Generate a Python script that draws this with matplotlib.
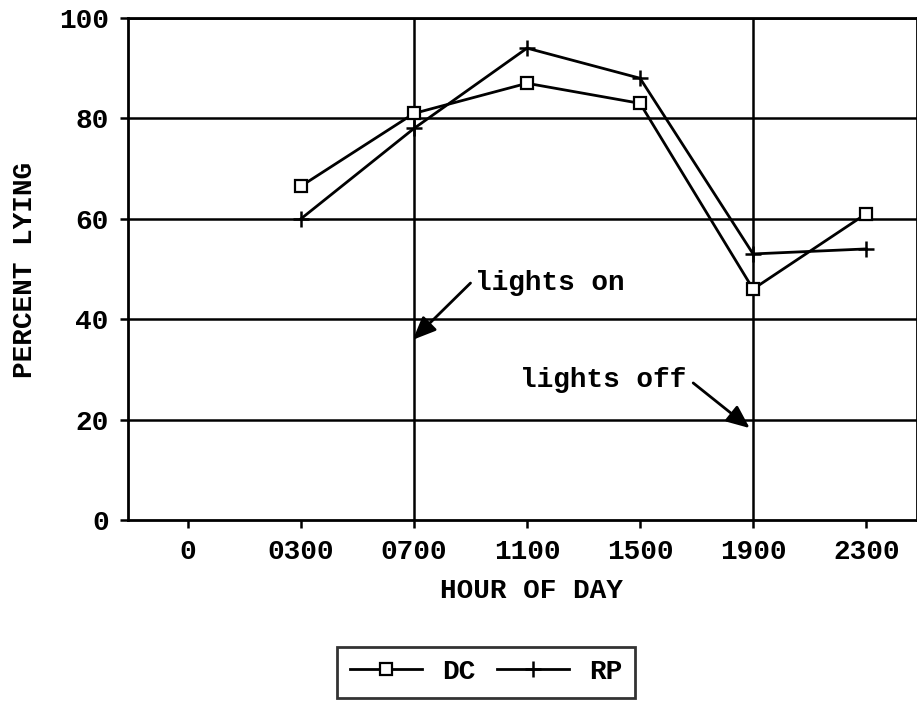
import matplotlib
matplotlib.use("Agg")
import matplotlib.pyplot as plt

hours = ["0", "0300", "0700", "1100", "1500", "1900", "2300"]
dc = [66.5, 81, 87, 83, 46, 61]
rp = [60, 78, 94, 88, 53, 54]
grid_y = [20, 40, 60, 80, 100]
lights = ["0700", "1900"]

plt.rcParams["font.family"] = ["Liberation Mono", "DejaVu Sans Mono"]
plt.rcParams["font.weight"] = "bold"
fs = 20

fig = plt.figure(figsize=(9.17, 7.04), dpi=100)
ax = fig.add_axes([0.1396, 0.2614, 0.8604, 0.713])

x = list(range(len(hours)))
data_x = x[1:]

for g in grid_y:
    ax.axhline(g, color="black", lw=1.8, zorder=1)
for h in lights:
    ax.axvline(hours.index(h), color="black", lw=1.8, zorder=1)

ax.plot(data_x, dc, color="black", lw=2, marker="s", markersize=9,
        markerfacecolor="white", markeredgecolor="black", markeredgewidth=1.6,
        label="DC", zorder=3)
ax.plot(data_x, rp, color="black", lw=2, marker="+", markersize=12,
        markeredgewidth=1.8, label="RP", zorder=3)

ax.set_xlim(-0.53, 6.45)
ax.set_ylim(0, 100)
ax.set_xticks(x)
ax.set_xticklabels(hours)
ax.set_yticks([0, 20, 40, 60, 80, 100])
ax.tick_params(direction="out", length=6, width=1.8, labelsize=fs, pad=8)
for s in ax.spines.values():
    s.set_linewidth(2)

ax.set_xlabel("HOUR OF DAY", fontsize=fs, fontweight="bold")
ax.set_ylabel("PERCENT LYING", fontsize=fs, fontweight="bold")
ax.xaxis.set_label_coords(0.511, -0.115)
ax.yaxis.set_label_coords(-0.114, 0.498)

arrow = dict(arrowstyle="-|>,head_length=1.4,head_width=0.6", color="black",
             lw=2, shrinkA=0, shrinkB=0)
ax.annotate("", xy=(1.99, 35.9), xytext=(2.5, 47.2), arrowprops=arrow)
ax.text(2.54, 47.3, "lights on", fontsize=fs, fontweight="bold", va="center")
ax.annotate("", xy=(4.97, 18.3), xytext=(4.47, 27.3), arrowprops=arrow)
ax.text(2.94, 27.9, "lights off", fontsize=fs, fontweight="bold", va="center")

leg = fig.legend(loc="center", bbox_to_anchor=(486 / 917, 1 - 672 / 704),
                 ncol=2, fontsize=fs, handlelength=2.6, frameon=True,
                 fancybox=False, edgecolor="black", columnspacing=0.8,
                 handletextpad=0.7, borderpad=0.45)
leg.get_frame().set_linewidth(2)

fig.savefig("out.png", dpi=100)
